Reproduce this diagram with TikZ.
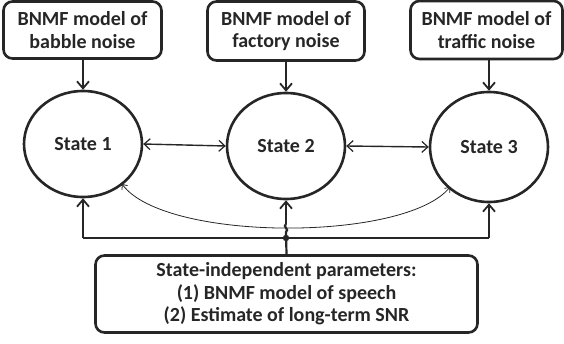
\documentclass[tikz,border=0pt]{standalone}
\usepackage{fontspec}
\setmainfont{Carlito}
\usetikzlibrary{shapes.geometric,arrows.meta}
\begin{document}
\begin{tikzpicture}[x=1pt,y=-1pt,
  every node/.style={font=\fontsize{20}{22.5}\selectfont\bfseries, text=black!85},
  modelbox/.style={draw=black!85, line width=2.6pt, rounded corners=9pt, align=center, inner sep=0pt},
  statenode/.style={draw=black!85, ellipse, line width=2.6pt, inner sep=0pt},
  feed/.style={draw=black!85, line width=2pt, -{Straight Barb[length=7pt,width=12pt,line width=1.8pt]}},
  link/.style={draw=black!85, line width=1.4pt, {Straight Barb[length=6pt,width=11pt,line width=1.2pt]}-{Straight Barb[length=6pt,width=11pt,line width=1.2pt]}},
  thinlink/.style={draw=black!85, line width=0.8pt, {Straight Barb[length=4pt,width=7pt,line width=0.8pt]}-{Straight Barb[length=4pt,width=7pt,line width=0.8pt]}},
  bus/.style={draw=black!85, line width=2.2pt}
]
\useasboundingbox (0,0) rectangle (564,343);
% top boxes
\node[modelbox, minimum width=158pt, minimum height=57pt] (b1) at (82.5,30) {BNMF model of\\babble noise};
\node[modelbox, minimum width=157pt, minimum height=59pt] (b2) at (286,31) {BNMF model of\\factory noise};
\node[modelbox, minimum width=152pt, minimum height=58pt] (b3) at (486.5,30) {BNMF model of\\traffic noise};
% states
\node[statenode, minimum width=118pt, minimum height=106pt] (s1) at (83,144) {State 1};
\node[statenode, minimum width=118pt, minimum height=106pt] (s2) at (286,146) {State 2};
\node[statenode, minimum width=118pt, minimum height=110pt] (s3) at (489,147) {State 3};
% bottom box
\node[modelbox, minimum width=382pt, minimum height=77pt] (p) at (286.5,294) {State-independent parameters:\\(1) BNMF model of speech\\(2) Estimate of long-term SNR};
% feeds from top boxes
\draw[feed] (s1.north |- b1.south) -- (s1.north);
\draw[feed] (s2.north |- b2.south) -- (s2.north);
\draw[feed] (s3.north |- b3.south) -- (s3.north);
% horizontal links
\draw[link] (s1.east) -- (s2.west);
\draw[link] (s2.east) -- (s3.west);
% curved link
\coordinate (c1) at (122,184);
\coordinate (c3) at (450,187);
\draw[thinlink] (c1) .. controls (165,242) and (405,242) .. (c3);
% bus
\coordinate (j) at (286,238);
\coordinate (bl) at (83,238);
\coordinate (br) at (489,238);
\draw[bus] (bl) -- (br);
\draw[feed] (bl) -- (s1.south);
\draw[feed] (br) -- (s3.south);
\fill[black!85] (j) circle (3.2pt);
\coordinate (h1) at (286,232);
\coordinate (h2) at (286,224);
\draw[bus] (p.north) -- (h1) .. controls (290,229.5) and (282,226.5) .. (h2);
\draw[feed] (h2) -- (s2.south);
\end{tikzpicture}
\end{document}
